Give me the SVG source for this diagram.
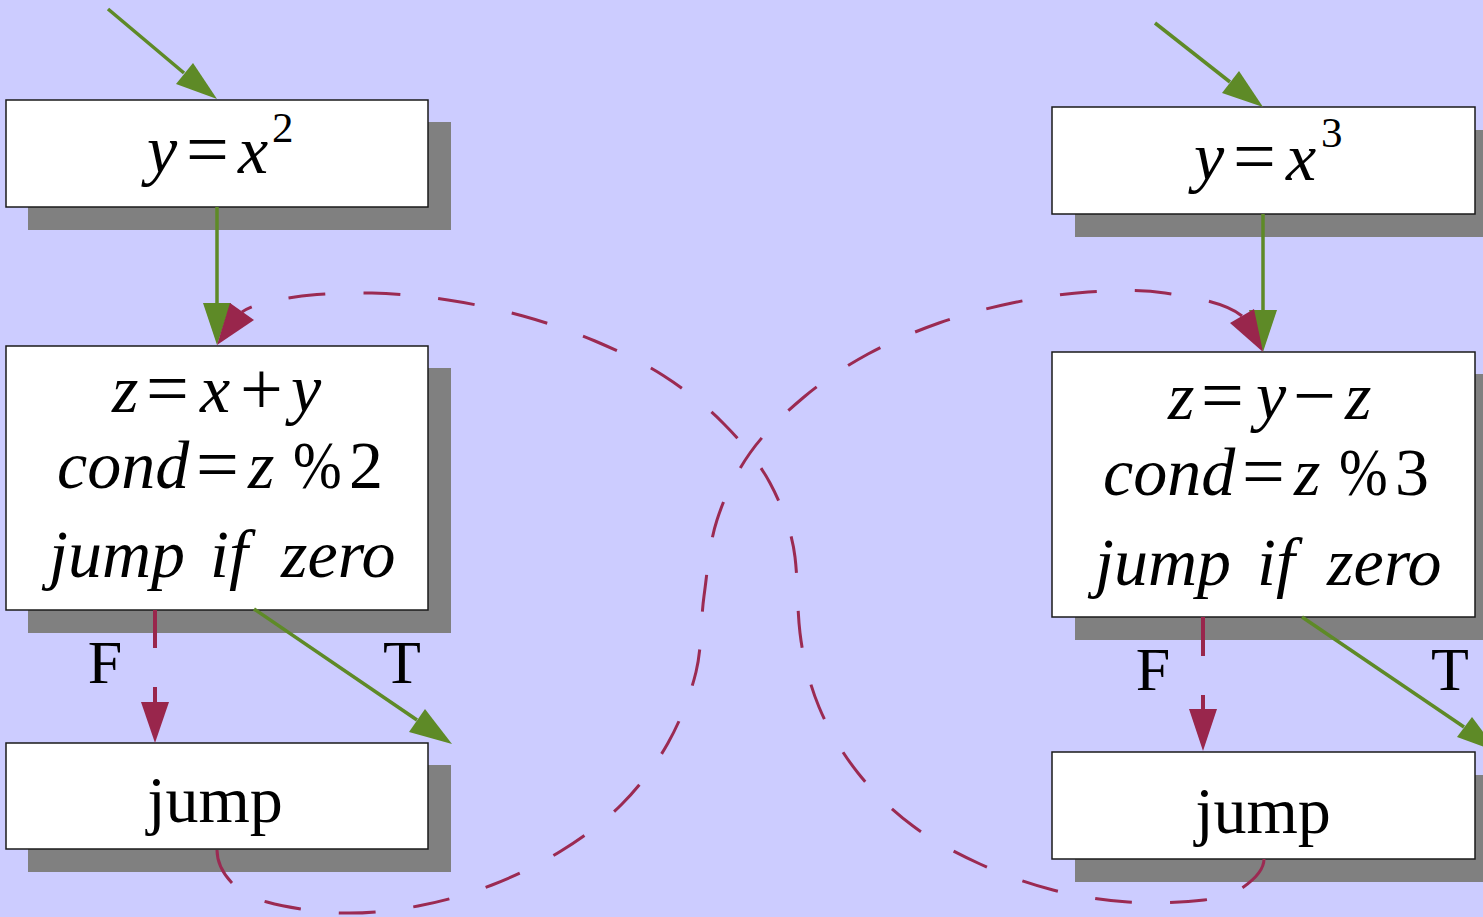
<svg xmlns="http://www.w3.org/2000/svg" width="1483" height="917" viewBox="0 0 1483 917">
<style>
.sh{fill:#808080}
.bx{fill:#fff;stroke:#1a1a1a;stroke-width:1.5}
text{font-family:"Liberation Serif","Times New Roman",serif;fill:#000}
.i{font-style:italic}
.t{font-size:68px}
.o{font-size:76px}
.j{font-size:66px;text-anchor:middle}
.s{font-size:43px}
.g{stroke:#5e8a27;stroke-width:3.5;fill:none}
.gh{fill:#5e8a27}
.r{stroke:#9b2a52;stroke-width:3;fill:none;stroke-dasharray:37 38}
.f{stroke:#99264c;stroke-width:4;fill:none}
.rh{fill:#99264c}
.lb{font-size:62px;text-anchor:middle}
</style>
<rect width="1483" height="917" fill="#ccccff"/>

<g id="n_left_sq">
<rect class="sh" x="28" y="122" width="423" height="108"/>
<rect class="bx" x="6" y="100" width="422" height="107"/>
<text class="t"><tspan class="i" x="147" y="173">y</tspan><tspan class="o" x="186" y="175">=</tspan><tspan class="i" x="238" y="173">x</tspan><tspan class="s" x="272" y="142">2</tspan></text>
</g>

<g id="n_left_calc">
<rect class="sh" x="28" y="368" width="423" height="265"/>
<rect class="bx" x="6" y="346" width="422" height="264"/>
<text class="t"><tspan class="i" x="112" y="412">z</tspan><tspan class="o" x="146" y="414">=</tspan><tspan class="i" x="200" y="412">x</tspan><tspan class="o" x="240" y="414">+</tspan><tspan class="i" x="291" y="412">y</tspan></text>
<text class="t"><tspan class="i" x="57" y="488">cond</tspan><tspan class="o" x="196" y="490">=</tspan><tspan class="i" x="248" y="488">z</tspan><tspan x="349" y="488">2</tspan></text>
<text class="t" transform="translate(293 488) scale(0.86 1)">%</text>
<text class="t"><tspan class="i" x="49" y="577">jump</tspan><tspan class="i" x="210" y="577">if</tspan><tspan class="i" x="281" y="577">zero</tspan></text>
</g>

<g id="n_left_jump">
<rect class="sh" x="28" y="765" width="423" height="107"/>
<rect class="bx" x="6" y="743" width="422" height="106"/>
<text class="j" x="215" y="822">jump</text>
</g>

<g id="n_right_cube">
<rect class="sh" x="1075" y="130" width="423" height="107"/>
<rect class="bx" x="1052" y="107" width="423" height="107"/>
<text class="t"><tspan class="i" x="1194" y="180">y</tspan><tspan class="o" x="1233" y="182">=</tspan><tspan class="i" x="1286" y="180">x</tspan><tspan class="s" x="1321" y="147">3</tspan></text>
</g>

<g id="n_right_calc">
<rect class="sh" x="1075" y="374" width="423" height="266"/>
<rect class="bx" x="1052" y="352" width="423" height="265"/>
<text class="t"><tspan class="i" x="1168" y="419">z</tspan><tspan class="o" x="1201" y="421">=</tspan><tspan class="i" x="1256" y="419">y</tspan><tspan class="o" x="1293" y="421">−</tspan><tspan class="i" x="1345" y="419">z</tspan></text>
<text class="t"><tspan class="i" x="1103" y="495">cond</tspan><tspan class="o" x="1242" y="497">=</tspan><tspan class="i" x="1294" y="495">z</tspan><tspan x="1395" y="495">3</tspan></text>
<text class="t" transform="translate(1339 495) scale(0.86 1)">%</text>
<text class="t"><tspan class="i" x="1095" y="585">jump</tspan><tspan class="i" x="1257" y="585">if</tspan><tspan class="i" x="1327" y="585">zero</tspan></text>
</g>

<g id="n_right_jump">
<rect class="sh" x="1075" y="775" width="423" height="107"/>
<rect class="bx" x="1052" y="752" width="423" height="107"/>
<text class="j" x="1263" y="833">jump</text>
</g>

<g id="connectors">
<path class="g" d="M108 9 L184 73"/>
<polygon class="gh" points="217,99 176,84 193,63"/>
<path class="g" d="M217 207 V303"/>
<polygon class="gh" points="203,303 231,303 217,345"/>
<path class="g" d="M254 609 L417 720"/>
<polygon class="gh" points="452,744 409,732 425,709"/>
<path class="g" d="M1155 23 L1230 82"/>
<polygon class="gh" points="1263,107 1222,93 1239,71"/>
<path class="g" d="M1263 214 V310"/>
<polygon class="gh" points="1249,310 1277,310 1263,352"/>
<path class="g" d="M1302 617 L1464 727"/>
<polygon class="gh" points="1498,752 1457,737 1472,717"/>

<path class="f" style="stroke-dasharray:38 39" d="M155 610 V702"/>
<polygon class="rh" points="141,702 169,702 155,743"/>
<path class="f" style="stroke-dasharray:39 39" d="M1203 617 V709"/>
<polygon class="rh" points="1189,709 1217,709 1203,751"/>

<path class="r" d="M217 850 C217 862 223.7 874.3 232 883 C240.3 891.7 248.7 897 267 902 C285.3 907 316.8 912.3 342 913 C367.2 913.7 393 910.7 418 906 C443 901.3 468.2 894.2 492 885 C515.8 875.8 539.3 864.5 561 851 C582.7 837.5 604.2 822 622 804 C639.8 786 655.7 765 668 743 C680.3 721 690 696.5 696 672 C702 647.5 700.5 621.3 704 596 C707.5 570.7 709.3 543.8 717 520 C724.7 496.2 735.5 473.5 750 453 C764.5 432.5 784.3 413.5 804 397 C823.7 380.5 845.5 366.3 868 354 C890.5 341.7 915 331.5 939 323 C963 314.5 987.2 308.2 1012 303 C1036.8 297.8 1062.5 293.7 1088 292 C1113.5 290.3 1139.3 289 1165 293 C1190.7 297 1225 302 1242 316"/>
<polygon class="rh" points="1263,352 1230,323 1254,309"/>

<path class="r" d="M1264 859 C1264 870 1252 881.2 1242 888 C1232 894.8 1223 897.7 1204 900 C1185 902.3 1153.2 903.7 1128 902 C1102.8 900.3 1077.7 896.3 1053 890 C1028.3 883.7 1003.3 874.7 980 864 C956.7 853.3 933.3 841.2 913 826 C892.7 810.8 873.7 792.8 858 773 C842.3 753.2 828.7 730.3 819 707 C809.3 683.7 803 658 800 633 C797 608 798 582 795 557 C792 532 782 505.3 770 483 C758 460.7 740.7 440.8 723 423 C705.3 405.2 685.3 389.7 664 376 C642.7 362.3 618.5 351 595 341 C571.5 331 547.5 322.8 523 316 C498.5 309.2 473.2 303.8 448 300 C422.8 296.2 397.5 293.5 372 293 C346.5 292.5 316.7 293.8 295 297 C273.3 300.2 254 304 242 312"/>
<polygon class="rh" points="217,345 230,303 254,320"/>

<text class="lb" x="105" y="683">F</text>
<text class="lb" x="402" y="683">T</text>
<text class="lb" x="1153" y="690">F</text>
<text class="lb" x="1450" y="690">T</text>
</g>
</svg>
